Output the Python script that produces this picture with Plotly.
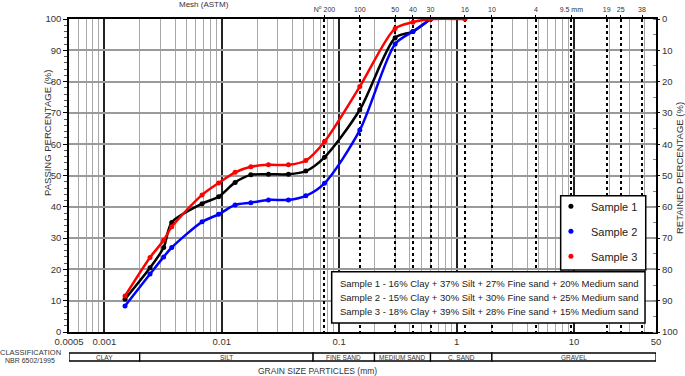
import math
import plotly.graph_objects as go

# ---------------- data ----------------
diam = [0.0015, 0.00245, 0.0032, 0.00375, 0.0068, 0.0094, 0.013, 0.0177,
        0.025, 0.037, 0.052, 0.075, 0.15, 0.3, 0.425, 0.6]
diam_s3 = diam + [1.18]

sample1 = [10.5, 20.5, 27.0, 35.0, 41.0, 43.2, 47.8, 50.2, 50.4, 50.4, 51.4, 55.8, 71.0, 94.0, 96.0, 100.0]
sample2 = [8.3, 18.5, 24.0, 27.0, 35.2, 37.6, 40.6, 41.3, 42.2, 42.2, 43.5, 47.5, 64.5, 92.0, 96.0, 100.0]
sample3 = [11.5, 23.8, 29.3, 33.6, 43.8, 47.6, 51.0, 52.8, 53.4, 53.4, 54.8, 60.8, 78.4, 97.0, 99.0, 100.0, 100.0]

series_names = ["Sample 1", "Sample 2", "Sample 3"]
series_colors = ["#000000", "#0000ff", "#ff0000"]

x_ticks = [0.0005, 0.001, 0.01, 0.1, 1, 10, 50]
x_ticklabels = ["0.0005", "0.001", "0.01", "0.1", "1", "10", "50"]

mesh_mm = [0.075, 0.15, 0.3, 0.425, 0.6, 1.18, 2.0, 4.75, 9.5, 19, 25, 38]
mesh_labels = ["N<sup>o</sup> 200", "100", "50", "40", "30", "16", "10", "4", "9.5 mm", "19", "25", "38"]

class_bounds = [0.0005, 0.002, 0.06, 0.2, 0.6, 2.0, 50]
class_names = ["CLAY", "SILT", "FINE SAND", "MEDIUM SAND", "C. SAND", "GRAVEL"]

composition = [
    "Sample 1 - 16% Clay + 37% Silt + 27% Fine sand + 20% Medium sand",
    "Sample 2 - 15% Clay + 30% Silt + 30% Fine sand + 25% Medium sand",
    "Sample 3 - 18% Clay + 39% Silt + 28% Fine sand + 15% Medium sand",
]

# ---------------- figure ----------------
FONT = "Liberation Sans, Arial, sans-serif"
xrange_log = [math.log10(0.0005), math.log10(50)]

fig = go.Figure()
for name, xs, ys, col in zip(series_names, [diam, diam, diam_s3],
                             [sample1, sample2, sample3], series_colors):
    fig.add_trace(go.Scatter(
        x=xs, y=ys, mode="lines+markers", name=name,
        line=dict(color=col, width=2.5, shape="spline", smoothing=0.8),
        marker=dict(color=col, size=5),
        showlegend=False,
    ))
    # legend-only entry (dot only)
    fig.add_trace(go.Scatter(
        x=[None], y=[None], mode="markers", name=name,
        marker=dict(color=col, size=5), legendgroup=name,
    ))

fig.update_layout(
    width=685, height=376,
    margin=dict(l=69, r=29, t=19, b=44, autoexpand=False),
    paper_bgcolor="white", plot_bgcolor="white",
    font=dict(family=FONT, color="#333333", size=9),
    xaxis=dict(
        type="log", range=xrange_log, automargin=False,
        tickmode="array", tickvals=x_ticks, ticktext=x_ticklabels,
        showgrid=True, gridcolor="#222222", gridwidth=1.5,
        showline=True, linecolor="#000000", linewidth=1.5, mirror=True,
        ticks="", tickfont=dict(size=9.5, color="#333333"),
        minor=dict(dtick="D1", showgrid=True, gridcolor="#a8a8a8", gridwidth=1, ticks=""),
        zeroline=False,
    ),
    xaxis2=dict(
        type="log", range=xrange_log, overlaying="x", side="top", anchor="y",
        automargin=False,
        tickmode="array", tickvals=mesh_mm, ticktext=mesh_labels,
        showgrid=True, gridcolor="#000000", gridwidth=1.6, griddash="dot",
        ticks="outside", ticklen=3, tickcolor="#000000",
        tickfont=dict(size=7, color="#333333"), showline=False,
    ),
    yaxis=dict(
        range=[0, 100], tickmode="linear", tick0=0, dtick=10, automargin=False,
        showgrid=True, gridcolor="#9a9a9a", gridwidth=1.5,
        showline=True, linecolor="#000000", linewidth=1.5, mirror=True,
        ticks="outside", ticklen=4, tickcolor="#000000",
        minor=dict(dtick=2, ticks="outside", ticklen=3, tickcolor="#555555", showgrid=False),
        tickfont=dict(size=9.5, color="#333333"), zeroline=False,
    ),
    yaxis2=dict(
        range=[100, 0], overlaying="y", side="right", anchor="x", automargin=False,
        tickmode="linear", tick0=0, dtick=10, showgrid=False,
        ticks="outside", ticklen=3, tickcolor="#000000",
        minor=dict(dtick=5, ticks="inside", ticklen=3, tickcolor="#888888"),
        tickfont=dict(size=9.5, color="#333333"), zeroline=False,
    ),
    legend=dict(
        x=0.821, y=0.4477, xanchor="left", yanchor="top",
        bgcolor="rgba(0,0,0,0)", borderwidth=0,
        font=dict(size=11, color="#222222", family=FONT),
        tracegroupgap=6, itemwidth=30,
    ),
)

# attach a hidden trace to secondary axes so they get drawn
fig.add_trace(go.Scatter(x=[mesh_mm[0]], y=[0], xaxis="x2", yaxis="y2",
                         mode="markers", marker=dict(opacity=0), showlegend=False,
                         hoverinfo="skip"))

annotations = []
shapes = []


def label(text, x, y, size, angle=0, xref="paper"):
    return dict(text=text, x=x, y=y, xref=xref, yref="paper", textangle=angle,
                xanchor="center", yanchor="middle", showarrow=False,
                font=dict(size=size, color="#333333"))


# axis titles and labels
annotations += [
    label("PASSING PERCENTAGE (%)", -0.0358, 0.636, 9.5, -90),
    label("RETAINED PERCENTAGE (%)", 1.041, 0.524, 9.5, -90),
    label("Mesh (ASTM)", 0.23, 1.045, 8),
    label("GRAIN SIZE PARTICLES (mm)", 0.424, -0.1246, 8.5),
    label("CLASSIFICATION", -0.0664, -0.0639, 7.5),
    label("NBR 6502/1995", -0.0664, -0.0895, 7),
]

# legend border
shapes.append(dict(type="rect", xref="paper", yref="paper", x0=0.8376, x1=0.9825,
                   y0=0.198, y1=0.4355, line=dict(color="#000000", width=1.5),
                   fillcolor="white", layer="above"))

# classification band
band_y0, band_y1 = -0.0927, -0.0671
for i, nm in enumerate(class_names):
    a, b = class_bounds[i], class_bounds[i + 1]
    shapes.append(dict(type="rect", xref="x", yref="paper", x0=a, x1=b,
                       y0=band_y0, y1=band_y1, line=dict(color="#000000", width=1.3),
                       fillcolor="white"))
    annotations.append(label(nm, (math.log10(a) + math.log10(b)) / 2,
                             (band_y0 + band_y1) / 2, 6.5, xref="x"))

# composition box
shapes.append(dict(type="rect", xref="paper", yref="paper", x0=0.4475, x1=0.9813,
                   y0=0.0288, y1=0.1927, line=dict(color="#000000", width=1.5),
                   fillcolor="white", layer="above"))
for txt, yy in zip(composition, [0.1565, 0.1096, 0.0639]):
    annotations.append(dict(text=txt, xref="paper", yref="paper", x=0.4583, y=yy,
                            xanchor="left", yanchor="middle", showarrow=False,
                            font=dict(size=9.5, color="#222222")))

fig.update_layout(annotations=annotations, shapes=shapes)
fig.write_html("out.html", config={"displayModeBar": False},
               post_script="document.body.style.margin='0';document.body.style.padding='0';")
